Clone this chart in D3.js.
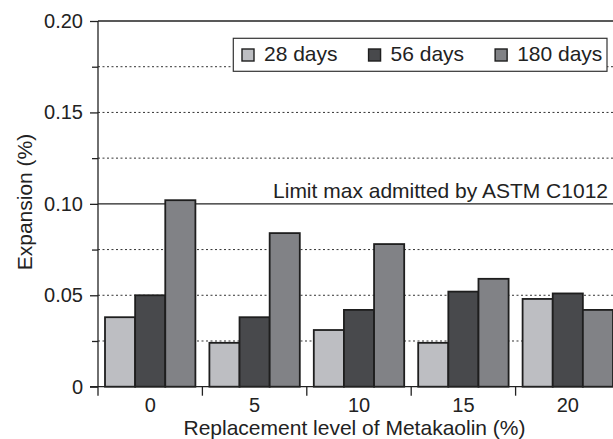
<!DOCTYPE html>
<html>
<head>
<meta charset="utf-8">
<script src="https://cdn.jsdelivr.net/npm/d3@7"></script>
<style>
  body { margin: 0; background: #fff; }
  svg { display: block; font-family: "Liberation Sans", Arial, sans-serif; }
</style>
</head>
<body>
<div id="viz"></div>
<script>
// data
let categories = ["0", "5", "10", "15", "20"];
let series = ["28 days", "56 days", "180 days"];
let values28 = [0.038, 0.024, 0.031, 0.024, 0.048];
let values56 = [0.050, 0.038, 0.042, 0.052, 0.051];
let values180 = [0.102, 0.084, 0.078, 0.059, 0.042];
let yTicks = [0, 0.05, 0.10, 0.15, 0.20];
let yMinor = [0.025, 0.075, 0.125, 0.175];
let limitValue = 0.10;
let limitLabel = "Limit max admitted by ASTM C1012";
let colors = ["#bdbec2", "#48494c", "#818286"];

let w = 613;
let h = 439;
let padL = 98, padR = 620, padT = 21, padB = 386.7;
let ink = "#222";

let viz = d3.select("#viz").append("svg")
    .attr("width", w).attr("height", h);

let x0 = d3.scaleBand().domain(categories).range([padL, padR]).padding(0);
let x1 = d3.scaleBand().domain(series).range([7, x0.bandwidth() - 7]);
let y = d3.scaleLinear().domain([0, 0.20]).range([padB, padT]);

let rows = categories.map((c, i) => ({
    cat: c,
    vals: [values28[i], values56[i], values180[i]]
}));

// dotted grid
viz.append("g").selectAll("line")
    .data(yTicks.concat(yMinor).filter(d => d > 0 && d < 0.20 && d !== limitValue))
    .join("line")
    .attr("x1", padL).attr("x2", padR)
    .attr("y1", d => y(d)).attr("y2", d => y(d))
    .attr("stroke", "#333").attr("stroke-width", 1)
    .attr("stroke-dasharray", "2,2.5");

// limit line + top border
viz.append("line")
    .attr("x1", padL).attr("x2", padR)
    .attr("y1", y(limitValue)).attr("y2", y(limitValue))
    .attr("stroke", ink).attr("stroke-width", 1.3);
viz.append("line")
    .attr("x1", padL).attr("x2", padR)
    .attr("y1", y(0.20)).attr("y2", y(0.20))
    .attr("stroke", ink).attr("stroke-width", 1.3);

viz.append("text")
    .attr("x", 608).attr("y", y(limitValue) - 5.6)
    .attr("text-anchor", "end")
    .attr("font-size", "21px").attr("fill", ink)
    .text(limitLabel);

// bars
let groups = viz.append("g").selectAll("g")
    .data(rows)
    .join("g")
    .attr("transform", d => "translate(" + x0(d.cat) + ",0)");

groups.selectAll("rect")
    .data(d => d.vals.map((v, j) => ({ s: series[j], v: v, j: j })))
    .join("rect")
    .attr("x", d => x1(d.s))
    .attr("width", x1.bandwidth())
    .attr("y", d => y(d.v))
    .attr("height", d => y(0) - y(d.v))
    .attr("fill", d => colors[d.j])
    .attr("stroke", "#1e1e1e")
    .attr("stroke-width", 1.8);

// y axis
let yAxis = d3.axisLeft(y).tickValues(yTicks)
    .tickSize(8).tickPadding(7)
    .tickFormat(d => d === 0 ? "0" : d3.format(".2f")(d));
let yg = viz.append("g").attr("transform", "translate(" + padL + ",0)").call(yAxis);
yg.select(".domain").remove();
yg.selectAll("line").attr("stroke", ink).attr("stroke-width", 1.3);
yg.selectAll("text").attr("font-size", "20px").attr("fill", ink).attr("font-family", null);

let ym = d3.axisLeft(y).tickValues(yMinor).tickSize(6).tickFormat("");
let ymg = viz.append("g").attr("transform", "translate(" + padL + ",0)").call(ym);
ymg.select(".domain").remove();
ymg.selectAll("line").attr("stroke", ink).attr("stroke-width", 1.3);

viz.append("line")
    .attr("x1", padL).attr("x2", padL)
    .attr("y1", padT).attr("y2", padB + 9)
    .attr("stroke", ink).attr("stroke-width", 1.3);

// x axis
viz.append("line")
    .attr("x1", padL - 8).attr("x2", padR)
    .attr("y1", padB).attr("y2", padB)
    .attr("stroke", ink).attr("stroke-width", 1.3);

viz.append("g").selectAll("line")
    .data(categories.slice(1))
    .join("line")
    .attr("x1", d => x0(d)).attr("x2", d => x0(d))
    .attr("y1", padB).attr("y2", padB + 9)
    .attr("stroke", ink).attr("stroke-width", 1.3);

let xAxis = d3.axisBottom(x0).tickSize(0).tickPadding(11);
let xg = viz.append("g").attr("transform", "translate(0," + padB + ")").call(xAxis);
xg.select(".domain").remove();
xg.selectAll("text").attr("font-size", "20px").attr("fill", ink).attr("font-family", null);

// axis titles
viz.append("text")
    .attr("x", 354.5).attr("y", 435)
    .attr("text-anchor", "middle")
    .attr("font-size", "21px").attr("fill", ink)
    .text("Replacement level of Metakaolin (%)");

viz.append("text")
    .attr("transform", "translate(32,202) rotate(-90)")
    .attr("text-anchor", "middle")
    .attr("font-size", "21px").attr("fill", ink)
    .text("Expansion (%)");

// legend
let legend = viz.append("g");
legend.append("rect")
    .attr("x", 233.3).attr("y", 38.3)
    .attr("width", 373.7).attr("height", 33)
    .attr("fill", "#fff").attr("stroke", "#333").attr("stroke-width", 1.2);

let lx = 242;
series.forEach((s, i) => {
    legend.append("rect")
        .attr("x", lx).attr("y", 49)
        .attr("width", 12).attr("height", 12)
        .attr("fill", colors[i]).attr("stroke", "#1e1e1e").attr("stroke-width", 1.4);
    let t = legend.append("text")
        .attr("x", lx + 22).attr("y", 61)
        .attr("font-size", "21px").attr("fill", ink)
        .text(s);
    lx += 22 + t.node().getComputedTextLength() + 31;
});
</script>
</body>
</html>
